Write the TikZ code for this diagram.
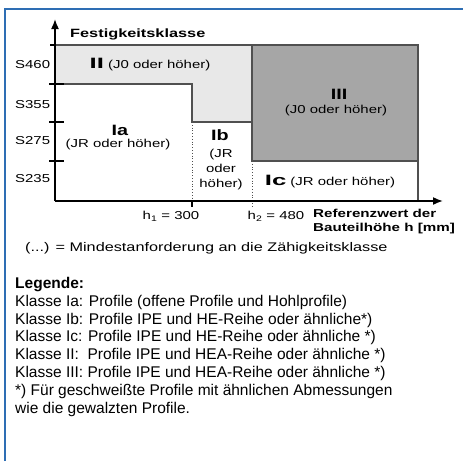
\documentclass[tikz,border=0pt]{standalone}
\usepackage{fontspec}
\setmainfont{Liberation Sans}
\newfontfamily\chartfont[FakeStretch=1.3]{Liberation Sans}
\newcommand{\widebold}[1]{\scalebox{1.32}[1]{\bfseries #1}}
\usetikzlibrary{arrows.meta}
\definecolor{frameblue}{RGB}{46,110,180}
\definecolor{edgegray}{RGB}{80,80,80}
\definecolor{lightfill}{RGB}{232,232,232}
\definecolor{darkfill}{RGB}{166,166,166}
\begin{document}
\begin{tikzpicture}[x=1pt,y=-1pt,
    lab/.style={inner sep=0pt, font=\chartfont\fontsize{11.5}{14}\selectfont},
    bold/.style={inner sep=0pt, font=\fontsize{11.5}{13.5}\selectfont},
    big/.style={inner sep=0pt, font=\fontsize{15}{17}\selectfont},
    zone/.style={draw=edgegray, line width=1.4pt},
    axis/.style={line width=1.6pt, -{Latex[length=10pt,width=8pt]}},
    tick/.style={line width=1.2pt},
    guide/.style={dotted, line width=0.8pt, edgegray}]
    \useasboundingbox (0,0) rectangle (463,461);
    % frame
    \draw[frameblue, line width=1.3pt] (5,461) -- (5,9) -- (463,9);
    % zones
    \fill[lightfill] (55,45) -- (252,45) -- (252,122) -- (192,122) -- (192,84) -- (55,84) -- cycle;
    \draw[zone] (55,45) -- (252,45) -- (252,122) -- (192,122) -- (192,84) -- (55,84);
    \draw[zone, fill=darkfill] (252,45) rectangle (418,161);
    \draw[zone] (252,161) -- (418,161) -- (418,201);
    \draw[guide] (192,122) -- (192,201);
    \draw[guide] (252,161) -- (252,206);
    % axes
    \coordinate (o) at (55,201);
    \coordinate (ytop) at (55,19);
    \coordinate (xend) at (443,201);
    \draw[axis] (o) -- (ytop);
    \draw[axis] (o) -- (xend);
    \draw[tick] (50,45) -- (55,45);
    \foreach \y in {84,122,161}
        \draw[tick] (49,\y) -- (64,\y);
    \draw[tick] (192,201) -- (192,207);
    % labels
    \node[bold, font=\fontsize{12}{14}\selectfont, anchor=west] (fest) at (70,34) {\scalebox{1.36}[1]{\bfseries Festigkeitsklasse}};
    \node[lab, anchor=west] (s460) at (15,65) {S460};
    \node[lab, anchor=west] (s355) at (15,105) {S355};
    \node[lab, anchor=west] (s275) at (15,141) {S275};
    \node[lab, anchor=west] (s235) at (15,179) {S235};
    \node[lab] (lII) at (150,65) {{\fontsize{15}{17}\selectfont\widebold{II}} (J0 oder höher)};
    \node[big] (lIII) at (339,94) {\widebold{III}};
    \node[lab] (lIIIr) at (336,111) {(J0 oder höher)};
    \node[big] (lIa) at (120,130) {\widebold{Ia}};
    \node[lab] (lIar) at (118,145) {(JR oder höher)};
    \node[big] (lIb) at (220,135) {\widebold{Ib}};
    \node[lab, align=center, font=\chartfont\fontsize{11.5}{15}\selectfont] (lIbr) at (221,170) {(JR\\oder\\höher)};
    \node[lab] (lIc) at (330,182) {{\fontsize{15}{17}\selectfont\widebold{Ic}} (JR oder höher)};
    \node[lab] (h1) at (171,216) {h\textsubscript{1} = 300};
    \node[lab] (h2) at (276,216) {h\textsubscript{2} = 480};
    \node[bold, align=left, anchor=north west] (ref) at (313,209) {\widebold{Referenzwert der}\\\widebold{Bauteilhöhe h [mm]}};
    \node[lab, font=\chartfont\fontsize{12.5}{14}\selectfont, anchor=west] (note) at (25,248) {(...) = Mindestanforderung an die Zähigkeitsklasse};
    % legend
    \node[inner sep=0pt, anchor=north west, align=left, font=\fontsize{15.5}{17.8}\selectfont] (legend) at (15,277) {%
        \textbf{Legende:}\\
        Klasse Ia: Profile (offene Profile und Hohlprofile)\\
        Klasse Ib: Profile IPE und HE-Reihe oder ähnliche*)\\
        Klasse Ic: Profile IPE und HE-Reihe oder ähnliche *)\\
        Klasse II:\ \ Profile IPE und HEA-Reihe oder ähnliche *)\\
        Klasse III: Profile IPE und HEA-Reihe oder ähnliche *)\\
        *) Für geschweißte Profile mit ähnlichen Abmessungen\\
        wie die gewalzten Profile.};
\end{tikzpicture}
\end{document}
